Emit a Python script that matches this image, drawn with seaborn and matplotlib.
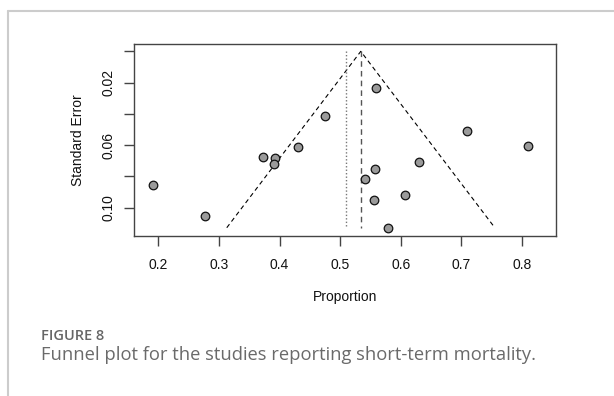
import matplotlib
matplotlib.use("Agg")
import matplotlib.pyplot as plt
import seaborn as sns
import pandas as pd
from matplotlib.lines import Line2D

sns.set_theme(style="white")
plt.rcParams['font.family'] = ['Liberation Sans', 'DejaVu Sans']

# Data
proportion = [0.191, 0.2775, 0.372, 0.392, 0.391, 0.430, 0.4755, 0.5586,
              0.7087, 0.8094, 0.630, 0.558, 0.5405, 0.607, 0.5553, 0.5784]
std_error = [0.0854, 0.1054, 0.0673, 0.0679, 0.0718, 0.0609, 0.0411, 0.0232,
             0.0507, 0.0603, 0.0709, 0.0754, 0.0815, 0.0918, 0.0952, 0.1128]
pooled_estimate = 0.534
adjusted_estimate = 0.509
se_max = 0.1128
x_ticks = [0.2, 0.3, 0.4, 0.5, 0.6, 0.7, 0.8]
y_ticks = [0.00, 0.02, 0.04, 0.06, 0.08, 0.10]
y_tick_labels = ["", "0.02", "", "0.06", "", "0.10"]

df = pd.DataFrame({"Proportion": proportion, "Standard Error": std_error})

fig = plt.figure(figsize=(6.14, 3.96), dpi=100)
ax = fig.add_axes([134/614, 1-235.7/396, (556-134)/614, (235.7-44)/396])

# funnel
z = 1.96
funnel = pd.DataFrame({
    "x": [pooled_estimate - z*se_max, pooled_estimate, pooled_estimate + z*se_max],
    "y": [se_max, 0.0, se_max]})
ax.plot(funnel["x"], funnel["y"], color="black", lw=0.8, ls=(0, (4, 3)))
ax.plot([pooled_estimate, pooled_estimate], [0.0, se_max], color="#555555",
        lw=1.0, ls=(0, (4, 3)))
ax.plot([adjusted_estimate, adjusted_estimate], [0.0, se_max], color="#777777",
        lw=1.0, ls=(0, (1, 1.5)))

sns.scatterplot(data=df, x="Proportion", y="Standard Error", ax=ax,
                s=38, color="#9a9a9a", edgecolor="#111111", linewidth=0.9,
                zorder=3)

ax.set_xlim(0.1599, 0.856)
ax.set_ylim(0.1179, -0.0047)
ax.set_xticks(x_ticks)
ax.set_xticklabels([f"{t:.1f}" for t in x_ticks])
ax.set_yticks(y_ticks)
ax.set_yticklabels(y_tick_labels, rotation=90, va="center")
for s in ax.spines.values():
    s.set_color("#444444")
    s.set_linewidth(1.0)
ax.tick_params(axis="both", which="major", direction="out", length=7,
               width=1.0, color="#444444", labelsize=10, labelcolor="#111111",
               bottom=True, left=True)
ax.tick_params(axis="x", pad=9)
ax.tick_params(axis="y", pad=6)
ax.set_xlabel("Proportion", fontsize=10, color="#111111", labelpad=13)
ax.set_ylabel("Standard Error", fontsize=10, color="#111111", labelpad=12)

# outer frame lines (light gray)
fig.add_artist(Line2D([7.7/614, 1.0], [1-11/396, 1-11/396], color="#cccccc",
                      lw=1.5, transform=fig.transFigure))
fig.add_artist(Line2D([7.7/614, 7.7/614], [0, 1-11/396], color="#cccccc",
                      lw=1.5, transform=fig.transFigure))

fig.text(41/614, 1-336/396, "FIGURE 8", fontsize=10.5, color="#666666",
         fontweight="semibold", family=["Open Sans", "DejaVu Sans"], va="center")
fig.text(41/614, 1-355.5/396,
         "Funnel plot for the studies reporting short-term mortality.",
         fontsize=13.2, color="#6a6a6a", family=["Open Sans", "DejaVu Sans"],
         va="center")

fig.savefig("out.png", dpi=100)
